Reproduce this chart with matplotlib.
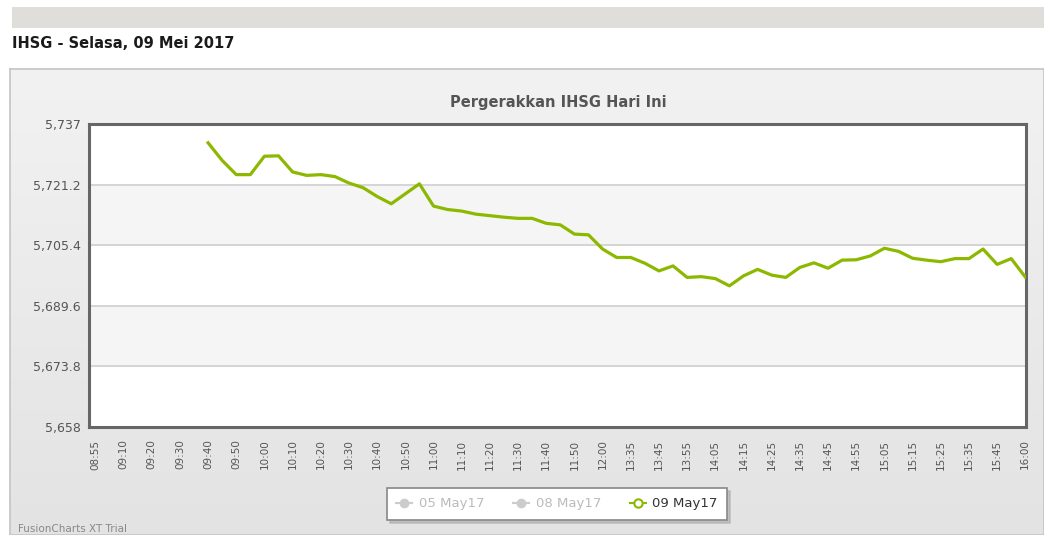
import matplotlib.pyplot as plt
import numpy as np
from matplotlib.lines import Line2D
from matplotlib.patches import Rectangle

# Category axis (every 5 minutes, only every other one labelled)
times = ["08:55", "09:05", "09:10", "09:15", "09:20", "09:25", "09:30", "09:35",
         "09:40", "09:45", "09:50", "09:55", "10:00", "10:05", "10:10", "10:15",
         "10:20", "10:25", "10:30", "10:35", "10:40", "10:45", "10:50", "10:55",
         "11:00", "11:05", "11:10", "11:15", "11:20", "11:25", "11:30", "11:35",
         "11:40", "11:45", "11:50", "11:55", "12:00", "13:30", "13:35", "13:40",
         "13:45", "13:50", "13:55", "14:00", "14:05", "14:10", "14:15", "14:20",
         "14:25", "14:30", "14:35", "14:40", "14:45", "14:50", "14:55", "15:00",
         "15:05", "15:10", "15:15", "15:20", "15:25", "15:30", "15:35", "15:40",
         "15:45", "15:50", "16:00"]

# IHSG 09 May 2017, from 09:40 onwards
ihsg_start = "09:40"
ihsg = [5732.1, 5727.5, 5723.8, 5723.8, 5728.6, 5728.7, 5724.5, 5723.6,
        5723.8, 5723.3, 5721.6, 5720.4, 5718.1, 5716.2, 5718.8, 5721.4,
        5715.6, 5714.7, 5714.3, 5713.5, 5713.1, 5712.7, 5712.4, 5712.4,
        5711.1, 5710.7, 5708.3, 5708.1, 5704.4, 5702.2, 5702.2, 5700.7,
        5698.7, 5700.0, 5697.0, 5697.2, 5696.7, 5694.8, 5697.4, 5699.1,
        5697.6, 5697.0, 5699.6, 5700.8, 5699.4, 5701.5, 5701.6, 5702.6,
        5704.6, 5703.8, 5702.0, 5701.5, 5701.1, 5701.9, 5701.9, 5704.4,
        5700.4, 5701.9, 5697.1]

y_ticks = [5658, 5673.8, 5689.6, 5705.4, 5721.2, 5737]
y_labels = ["5,658", "5,673.8", "5,689.6", "5,705.4", "5,721.2", "5,737"]
series_names = ["05 May17", "08 May17", "09 May17"]

W, H = 1044, 535
fig = plt.figure(figsize=(W / 100, H / 100), dpi=100)
fig.patch.set_facecolor("white")

# top grey bar and page heading
fig.add_artist(Rectangle((12 / W, 1 - 28 / H), 1, 21 / H, transform=fig.transFigure,
                         facecolor="#dfdedb", edgecolor="none"))
fig.text(12 / W, 1 - 43 / H, "IHSG - Selasa, 09 Mei 2017", fontsize=10.5,
         fontweight="bold", color="#1a1a1a", va="center", ha="left")

# chart panel with a soft vertical gradient
bg = fig.add_axes([10 / W, 0, 1 - 10 / W, 1 - 69 / H], zorder=0)
grad = np.linspace(0, 1, 256).reshape(-1, 1)
bg.imshow(grad, aspect="auto", cmap=plt.matplotlib.colors.LinearSegmentedColormap.from_list(
    "panel", ["#f2f2f2", "#e3e3e3"]), extent=[0, 1, 0, 1], origin="upper")
bg.set_xlim(0, 1)
bg.set_ylim(0, 1)
bg.set_xticks([])
bg.set_yticks([])
for s in bg.spines.values():
    s.set_color("#c4c4c4")
    s.set_linewidth(1.2)

fig.text(558 / W, 1 - 102 / H, "Pergerakkan IHSG Hari Ini", fontsize=10.5,
         fontweight="bold", color="#555555", ha="center", va="center")

ax = fig.add_axes([89 / W, 1 - 427 / H, (1026 - 89) / W, (427 - 124) / H], zorder=2)
ax.set_facecolor("white")
ax.axhspan(y_ticks[3], y_ticks[4], color="#f5f5f5", zorder=0)
ax.axhspan(y_ticks[1], y_ticks[2], color="#f5f5f5", zorder=0)
for y in y_ticks[1:-1]:
    ax.axhline(y, color="#cfcfcf", lw=1.2, zorder=1)

x_pos = np.arange(len(times))
start = times.index(ihsg_start)
ax.plot(x_pos[start:start + len(ihsg)], ihsg, color="#8cb800", lw=2.3,
        solid_joinstyle="round", zorder=3)

ax.set_xlim(-0.45, len(times) - 0.95)
ax.set_ylim(y_ticks[0], y_ticks[-1])
ax.set_yticks(y_ticks)
ax.set_yticklabels(y_labels, fontsize=9, color="#555555")
ax.set_xticks(x_pos[::2])
ax.set_xticklabels(times[::2], rotation=90, fontsize=7.5, color="#555555")
ax.tick_params(axis="both", length=0)
ax.tick_params(axis="x", pad=9)
ax.tick_params(axis="y", pad=6)
for s in ax.spines.values():
    s.set_color("#666666")
    s.set_linewidth(2.2)

handles = [
    Line2D([], [], color="#cccccc", lw=1.5, marker="o", markersize=6,
           markerfacecolor="#cccccc", markeredgecolor="#cccccc"),
    Line2D([], [], color="#cccccc", lw=1.5, marker="o", markersize=6,
           markerfacecolor="#cccccc", markeredgecolor="#cccccc"),
    Line2D([], [], color="#8cb800", lw=1.5, marker="o", markersize=6,
           markerfacecolor="white", markeredgecolor="#8cb800", markeredgewidth=1.5),
]
leg = fig.legend(handles, series_names, ncol=3, loc="center",
                 bbox_to_anchor=(557 / W, 1 - 504 / H), fontsize=9.5,
                 handlelength=1.2, handletextpad=0.5, columnspacing=2.2,
                 frameon=True, fancybox=False, edgecolor="#888888",
                 borderpad=0.7, shadow={"color": "#aaaaaa", "alpha": 0.6})
leg.get_frame().set_linewidth(1.2)
for t, c in zip(leg.get_texts(), ["#bbbbbb", "#bbbbbb", "#333333"]):
    t.set_color(c)

fig.text(18 / W, 1 - 529 / H, "FusionCharts XT Trial", fontsize=7.5,
         color="#888888", ha="left", va="center")

plt.savefig("out.png", dpi=100)
